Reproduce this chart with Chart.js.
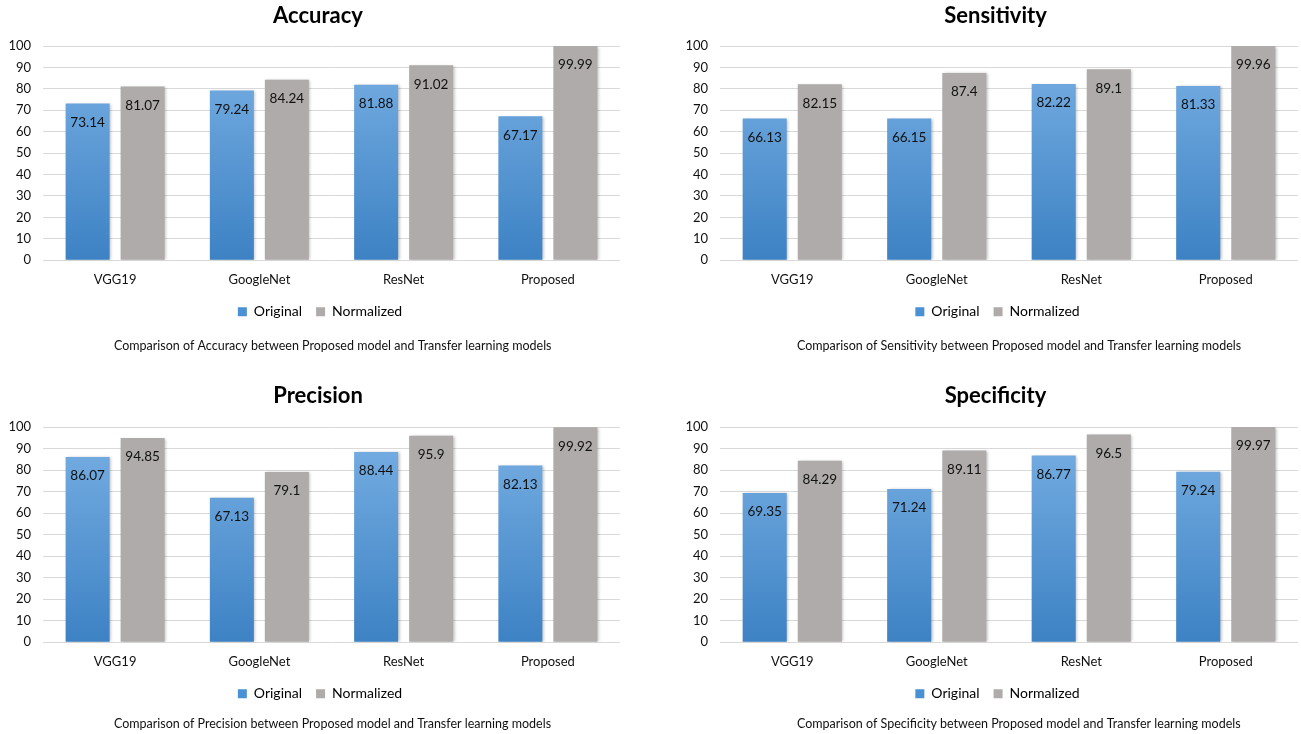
<!DOCTYPE html>
<html>
<head>
<meta charset="utf-8">
<script src="https://cdn.jsdelivr.net/npm/chart.js@4"></script>
<style>
  html, body { margin: 0; padding: 0; background: #fff; }
  body { width: 1301px; height: 734px; position: relative; overflow: hidden; }
  .cell { position: absolute; }
</style>
</head>
<body>
<div class="cell" style="left:0;top:0;width:650px;height:362px"><canvas id="c0"></canvas></div>
<div class="cell" style="left:650px;top:0;width:651px;height:362px"><canvas id="c1"></canvas></div>
<div class="cell" style="left:0;top:380px;width:650px;height:354px"><canvas id="c2"></canvas></div>
<div class="cell" style="left:650px;top:380px;width:651px;height:354px"><canvas id="c3"></canvas></div>
<script>
// --- DATA ---
const models = ['VGG19', 'GoogleNet', 'ResNet', 'Proposed'];
const seriesNames = ['Original', 'Normalized'];
const yTicks = [0, 10, 20, 30, 40, 50, 60, 70, 80, 90, 100];

const metricTitles = ['Accuracy', 'Sensitivity', 'Precision', 'Specificity'];

const accuracyOriginal = [73.14, 79.24, 81.88, 67.17];
const accuracyNormalized = [81.07, 84.24, 91.02, 99.99];
const sensitivityOriginal = [66.13, 66.15, 82.22, 81.33];
const sensitivityNormalized = [82.15, 87.4, 89.1, 99.96];
const precisionOriginal = [86.07, 67.13, 88.44, 82.13];
const precisionNormalized = [94.85, 79.1, 95.9, 99.92];
const specificityOriginal = [69.35, 71.24, 86.77, 79.24];
const specificityNormalized = [84.29, 89.11, 96.5, 99.97];

const originalSets = [accuracyOriginal, sensitivityOriginal, precisionOriginal, specificityOriginal];
const normalizedSets = [accuracyNormalized, sensitivityNormalized, precisionNormalized, specificityNormalized];

const FONT = "Lato, 'Open Sans', sans-serif";
Chart.defaults.font.family = FONT;
Chart.defaults.color = '#000';

// blue gradient, darker at the bottom
function blueFill(ctx) {
    const area = ctx.chart.chartArea;
    if (!area) return '#5b9bd5';
    const g = ctx.chart.ctx.createLinearGradient(0, area.bottom, 0, area.top);
    g.addColorStop(0, '#3d82c4');
    g.addColorStop(1, '#79b0e4');
    return g;
}

// soft shadow under bars + value labels inside the bar tops
const barDeco = {
    id: 'barDeco',
    beforeDatasetsDraw(chart) {
        const c = chart.ctx;
        c.save();
        c.shadowColor = 'rgba(0,0,0,0.28)';
        c.shadowBlur = 3;
        c.shadowOffsetX = 1.5;
        c.shadowOffsetY = 0.5;
    },
    afterDatasetsDraw(chart) {
        const c = chart.ctx;
        c.restore();
        c.save();
        c.font = '13.5px ' + FONT;
        c.fillStyle = '#111';
        c.textAlign = 'center';
        c.textBaseline = 'middle';
        chart.data.datasets.forEach((ds, i) => {
            chart.getDatasetMeta(i).data.forEach((bar, j) => {
                c.fillText(String(ds.data[j]), bar.x, bar.y + 19);
            });
        });
        c.restore();
    }
};

// nudge title / legend sideways and pin the caption's left edge
const boxShift = {
    id: 'boxShift',
    afterLayout(chart, args, opts) {
        const t = chart.titleBlock;
        if (t) { t.left += opts.titleDx; t.right += opts.titleDx; }
        const lg = chart.legend;
        if (lg) { lg.left += opts.legendDx; lg.right += opts.legendDx; }
        chart.boxes.forEach(b => {
            if (b !== t && b.constructor === t.constructor) {
                const w = b.right - b.left;
                b.left = opts.capX;
                b.right = opts.capX + w;
            }
        });
    }
};

const layouts = [
    { padL: 0, padR: 30, titlePadB: 16.6, subPadT: 9.7, subPadB: 8.5, capX: 114 },
    { padL: 27, padR: 3, titlePadB: 16.6, subPadT: 9.7, subPadB: 8.5, capX: 147 },
    { padL: 0, padR: 30, titlePadB: 17.6, subPadT: 5.7, subPadB: 2.5, capX: 114 },
    { padL: 27, padR: 3, titlePadB: 17.6, subPadT: 5.7, subPadB: 2.5, capX: 147 }
];

metricTitles.forEach((name, k) => {
    const L = layouts[k];
    new Chart(document.getElementById('c' + k), {
        type: 'bar',
        data: {
            labels: models,
            datasets: [
                {
                    label: seriesNames[0],
                    data: originalSets[k],
                    backgroundColor: blueFill,
                    categoryPercentage: 0.7626,
                    barPercentage: 0.8
                },
                {
                    label: seriesNames[1],
                    data: normalizedSets[k],
                    backgroundColor: '#aeabaa',
                    categoryPercentage: 0.7626,
                    barPercentage: 0.8
                }
            ]
        },
        options: {
            responsive: true,
            maintainAspectRatio: false,
            animation: false,
            layout: { padding: { left: L.padL, right: L.padR, top: 0, bottom: 0 } },
            scales: {
                x: {
                    grid: { display: false, drawTicks: false },
                    border: { display: false },
                    ticks: { padding: 12, font: { size: 13 }, color: '#111' },
                    afterFit: s => { s.height -= 9; }
                },
                y: {
                    min: 0,
                    max: 100,
                    afterBuildTicks: s => { s.ticks = yTicks.map(v => ({ value: v })); },
                    grid: { color: '#d9d9d9', lineWidth: 1, drawTicks: false },
                    border: { display: false },
                    ticks: { padding: 12, font: { size: 13 }, color: '#111' },
                    afterFit: s => { s.width = 43; }
                }
            },
            plugins: {
                boxShift: { titleDx: 8, legendDx: 10, capX: L.capX },
                title: {
                    display: true,
                    text: name,
                    font: { size: 22, weight: 'bold' },
                    color: '#000',
                    padding: { top: 3, bottom: L.titlePadB }
                },
                legend: {
                    position: 'bottom',
                    labels: {
                        boxWidth: 9,
                        boxHeight: 9,
                        padding: 14,
                        font: { size: 14 },
                        color: '#111',
                        generateLabels: chart => chart.data.datasets.map((ds, i) => ({
                            text: ds.label,
                            fillStyle: i === 0 ? '#4a90d4' : '#aeabaa',
                            strokeStyle: 'rgba(0,0,0,0)',
                            lineWidth: 0,
                            datasetIndex: i
                        }))
                    }
                },
                subtitle: {
                    display: true,
                    position: 'bottom',
                    align: 'start',
                    text: 'Comparison of ' + name + ' between Proposed model and Transfer learning models',
                    font: { size: 12.5 },
                    color: '#111',
                    padding: { top: L.subPadT, bottom: L.subPadB }
                },
                tooltip: { enabled: false }
            }
        },
        plugins: [barDeco, boxShift]
    });
});
</script>
</body>
</html>
